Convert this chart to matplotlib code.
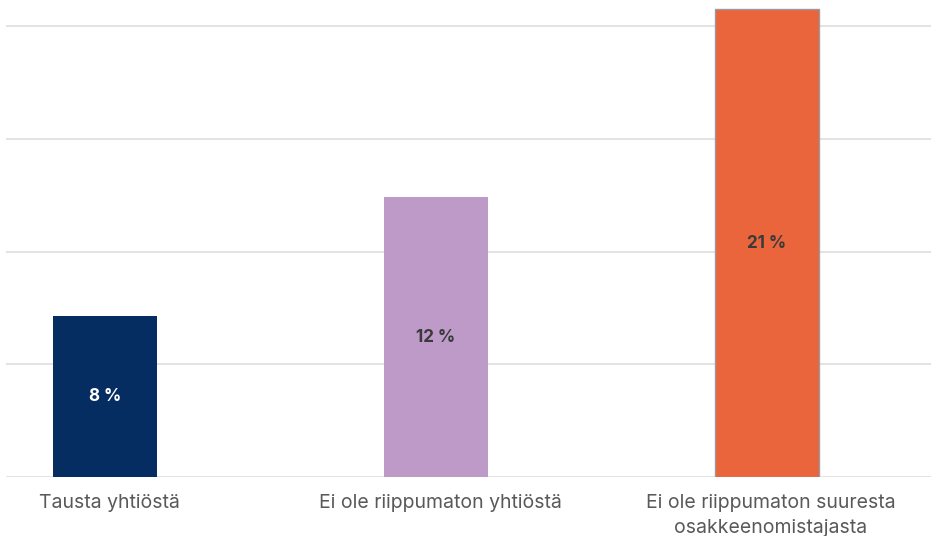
import matplotlib
matplotlib.use("Agg")
import matplotlib.pyplot as plt
import matplotlib.transforms as mtransforms

categories = ["Tausta yhtiöstä", "Ei ole riippumaton yhtiöstä",
              "Ei ole riippumaton suuresta\nosakkeenomistajasta"]
values = [7.15, 12.4, 20.75]
value_labels = ["8 %", "12 %", "21 %"]
bar_colors = ["#052d62", "#bd9ac8", "#ea643c"]
label_colors = ["white", "#3a3a3a", "#3a3a3a"]
edge_colors = ["none", "none", "#9a9aa0"]

W, H = 932, 536
fig = plt.figure(figsize=(W / 100, H / 100), dpi=100)
ax_left, ax_right = 6 / W, 931 / W
ax_bottom, ax_top = 1 - 477 / H, 1 - 0 / H
ax = fig.add_axes([ax_left, ax_bottom, ax_right - ax_left, ax_top - ax_bottom])

x = list(range(len(categories)))
px_per_unit = 331.0
ax.set_xlim(-(105 - 6) / px_per_unit, (931 - 105) / px_per_unit)
ypx = 112.75 / 5
ax.set_ylim(0, 477 / ypx)

bars = ax.bar(x, values, width=104 / px_per_unit, color=bar_colors, zorder=3)
for b, ec in zip(bars, edge_colors):
    if ec != "none":
        b.set_edgecolor(ec)
        b.set_linewidth(1.0)

ax.set_yticks([0, 5, 10, 15, 20])
ax.yaxis.grid(True, color="#dedede", linewidth=1.2, zorder=0)
ax.tick_params(axis="y", left=False, labelleft=False)
ax.tick_params(axis="x", bottom=False, pad=9)
for s in ax.spines.values():
    s.set_visible(False)

ax.set_xticks(x)
ax.set_xticklabels(categories, fontsize=14.0, color="#595959",
                   family=["Inter", "DejaVu Sans"], linespacing=1.45)
shift = mtransforms.ScaledTranslation(4 / 100, 0, fig.dpi_scale_trans)
for t in ax.get_xticklabels():
    t.set_transform(t.get_transform() + shift)

for xi, v, lab, lc in zip(x, values, value_labels, label_colors):
    ax.text(xi, v / 2, lab, ha="center", va="center",
            fontsize=12.3, fontweight="bold", color=lc,
            family=["Inter", "DejaVu Sans"], zorder=4)

fig.savefig("out.png", dpi=100)
